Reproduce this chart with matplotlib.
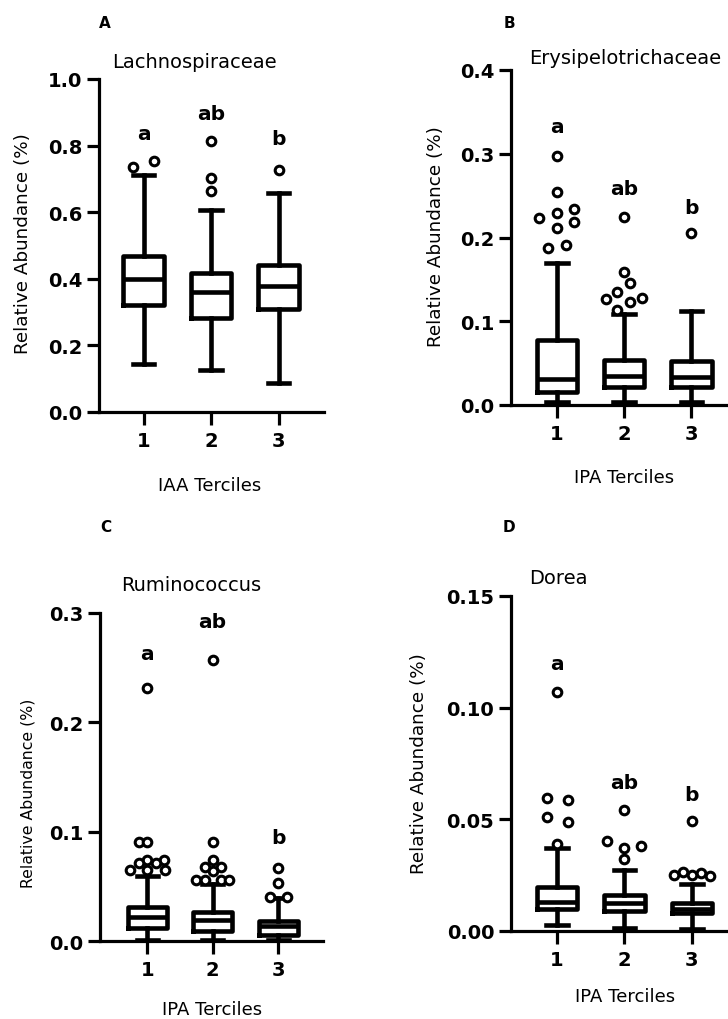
import matplotlib.pyplot as plt

plt.rcParams['font.family'] = ['DejaVu Sans']

groups = [1, 2, 3]
group_labels = ['1', '2', '3']
sig_letters = ['a', 'ab', 'b']

# A  Lachnospiraceae / IAA terciles
a_q1 = [0.322, 0.283, 0.308]
a_med = [0.398, 0.360, 0.377]
a_q3 = [0.468, 0.418, 0.440]
a_lo = [0.145, 0.125, 0.087]
a_hi = [0.712, 0.607, 0.657]
a_fliers = [[0.735, 0.753], [0.815, 0.702, 0.665], [0.728]]
a_letter_y = [0.835, 0.895, 0.82]
a_ticks = [0.0, 0.2, 0.4, 0.6, 0.8, 1.0]

# B  Erysipelotrichaceae / IPA terciles
b_q1 = [0.016, 0.022, 0.021]
b_med = [0.031, 0.035, 0.034]
b_q3 = [0.078, 0.054, 0.052]
b_lo = [0.003, 0.003, 0.003]
b_hi = [0.170, 0.1087, 0.1126]
b_fliers = [[0.297, 0.254, 0.223, 0.229, 0.234, 0.211, 0.219, 0.188, 0.191],
            [0.225, 0.159, 0.1457, 0.135, 0.1266, 0.123, 0.1274, 0.1138],
            [0.205]]
b_letter_y = [0.332, 0.259, 0.236]
b_ticks = [0.0, 0.1, 0.2, 0.3, 0.4]

# C  Ruminococcus / IPA terciles
c_q1 = [0.0116, 0.0094, 0.0055]
c_med = [0.0217, 0.0195, 0.0135]
c_q3 = [0.0308, 0.0262, 0.0186]
c_lo = [0.0008, 0.0008, 0.0008]
c_hi = [0.0597, 0.052, 0.039]
c_fliers = [[0.231, 0.0908, 0.0908, 0.0744, 0.0744, 0.0711, 0.0711, 0.0652, 0.0652, 0.0652],
            [0.2566, 0.0908, 0.0744, 0.0677, 0.0677, 0.0643, 0.0558, 0.0558, 0.0558, 0.0558],
            [0.0665, 0.053, 0.040, 0.040]]
c_letter_y = [0.263, 0.292, 0.0947]
c_ticks = [0.0, 0.1, 0.2, 0.3]

# D  Dorea / IPA terciles
d_q1 = [0.010, 0.0088, 0.0080]
d_med = [0.013, 0.0125, 0.0097]
d_q3 = [0.0197, 0.0159, 0.0126]
d_lo = [0.0025, 0.0013, 0.0007]
d_hi = [0.0371, 0.0275, 0.0211]
d_fliers = [[0.1068, 0.0595, 0.0588, 0.051, 0.0487, 0.039],
            [0.0544, 0.0402, 0.0371, 0.038, 0.0323],
            [0.0492, 0.025, 0.0265, 0.025, 0.026, 0.0245]]
d_letter_y = [0.1199, 0.0666, 0.0609]
d_ticks = [0.00, 0.05, 0.10, 0.15]

# horizontal offsets of outlier circles (category units)
a_dx = [[-0.15, 0.16], [0, 0, 0], [0]]
b_dx = [[0, 0, -0.26, 0, 0.26, 0, 0.26, -0.13, 0.13],
        [0, 0, 0.09, -0.1, -0.27, 0.09, 0.26, -0.1],
        [0]]
c_dx = [[0, -0.13, 0, 0, 0.26, -0.13, 0.13, -0.26, 0, 0.27],
        [0, 0, 0, -0.12, 0.12, 0, -0.25, -0.12, 0.12, 0.25],
        [0, 0, -0.13, 0.13]]
d_dx = [[0, -0.14, 0.16, -0.14, 0.16, 0],
        [0, -0.26, 0, 0.25, 0],
        [0, -0.27, -0.13, 0, 0.13, 0.27]]

W, H = 728, 1020
fig = plt.figure(figsize=(W / 100, H / 100), dpi=100)


def px(x, y):
    return x / W, 1 - y / H


def panel(left, top, bottom, step, xmin, ymax, q1, med, q3, lo, hi, fliers, dx,
          letter_y, ticks, tickfmt):
    xmax = 3.68
    width = (xmax - xmin) * step
    ax = fig.add_axes([left / W, 1 - bottom / H, width / W, (bottom - top) / H])
    stats = []
    for i in range(3):
        stats.append(dict(med=med[i], q1=q1[i], q3=q3[i], whislo=lo[i], whishi=hi[i], fliers=[]))
    lw = 3.3
    ax.bxp(stats, positions=groups, widths=0.6, capwidths=0.32, showfliers=False,
           boxprops=dict(linewidth=lw, color='black'),
           whiskerprops=dict(linewidth=lw, color='black'),
           capprops=dict(linewidth=lw, color='black'),
           medianprops=dict(linewidth=lw, color='black'))
    for i in range(3):
        xs = [groups[i] + d for d in dx[i]]
        ax.plot(xs, fliers[i], 'o', ms=6.2, mfc='white', mec='black', mew=2.2,
                clip_on=False, zorder=5)
        ax.text(groups[i], letter_y[i], sig_letters[i], ha='center', va='center',
                fontsize=14.5, fontweight='bold')
    ax.set_xlim(xmin, xmax)
    ax.set_ylim(0, ymax)
    ax.set_yticks(ticks)
    ax.set_yticklabels([tickfmt.format(t) for t in ticks])
    ax.set_xticks(groups)
    ax.set_xticklabels(group_labels)
    for lab in ax.get_xticklabels() + ax.get_yticklabels():
        lab.set_fontweight('bold')
        lab.set_fontsize(14)
    ax.spines['top'].set_visible(False)
    ax.spines['right'].set_visible(False)
    ax.spines['left'].set_linewidth(2.3)
    ax.spines['bottom'].set_linewidth(2.3)
    ax.tick_params(axis='y', length=9, width=2.3, pad=3)
    ax.tick_params(axis='x', length=9, width=2.3, pad=5)
    return ax


panel(99, 80, 413, 67.5, 0.34, 1.0, a_q1, a_med, a_q3, a_lo, a_hi, a_fliers, a_dx,
      a_letter_y, a_ticks, '{:.1f}')
panel(511, 71, 406, 67.3, 0.32, 0.4, b_q1, b_med, b_q3, b_lo, b_hi, b_fliers, b_dx,
      b_letter_y, b_ticks, '{:.1f}')
panel(100, 614, 942, 65.5, 0.28, 0.3, c_q1, c_med, c_q3, c_lo, c_hi, c_fliers, c_dx,
      c_letter_y, c_ticks, '{:.1f}')
panel(511, 597, 932, 67.5, 0.32, 0.15, d_q1, d_med, d_q3, d_lo, d_hi, d_fliers, d_dx,
      d_letter_y, d_ticks, '{:.2f}')

# panel letters
for (x, y), s in zip([(105, 24), (509, 23), (106, 527), (509, 528)], ['A', 'B', 'C', 'D']):
    fig.text(*px(x, y), s, ha='center', va='center', fontsize=11, fontweight='bold')

# titles
fig.text(*px(194, 62), 'Lachnospiraceae', ha='center', va='center', fontsize=14)
fig.text(*px(529, 58), 'Erysipelotrichaceae', ha='left', va='center', fontsize=14)
fig.text(*px(191, 586), 'Ruminococcus', ha='center', va='center', fontsize=14)
fig.text(*px(558, 578), 'Dorea', ha='center', va='center', fontsize=14)

# axis labels
ylab = 'Relative Abundance (%)'
fig.text(*px(23, 244), ylab, rotation=90, ha='center', va='center', fontsize=13.2)
fig.text(*px(436, 237), ylab, rotation=90, ha='center', va='center', fontsize=13.2)
fig.text(*px(28, 793), ylab, rotation=90, ha='center', va='center', fontsize=11.3)
fig.text(*px(419, 764), ylab, rotation=90, ha='center', va='center', fontsize=13.2)

fig.text(*px(210, 486), 'IAA Terciles', ha='center', va='center', fontsize=13)
fig.text(*px(624, 478), 'IPA Terciles', ha='center', va='center', fontsize=13)
fig.text(*px(212, 1010), 'IPA Terciles', ha='center', va='center', fontsize=13)
fig.text(*px(625, 997), 'IPA Terciles', ha='center', va='center', fontsize=13)

fig.savefig('out.png', dpi=100)
